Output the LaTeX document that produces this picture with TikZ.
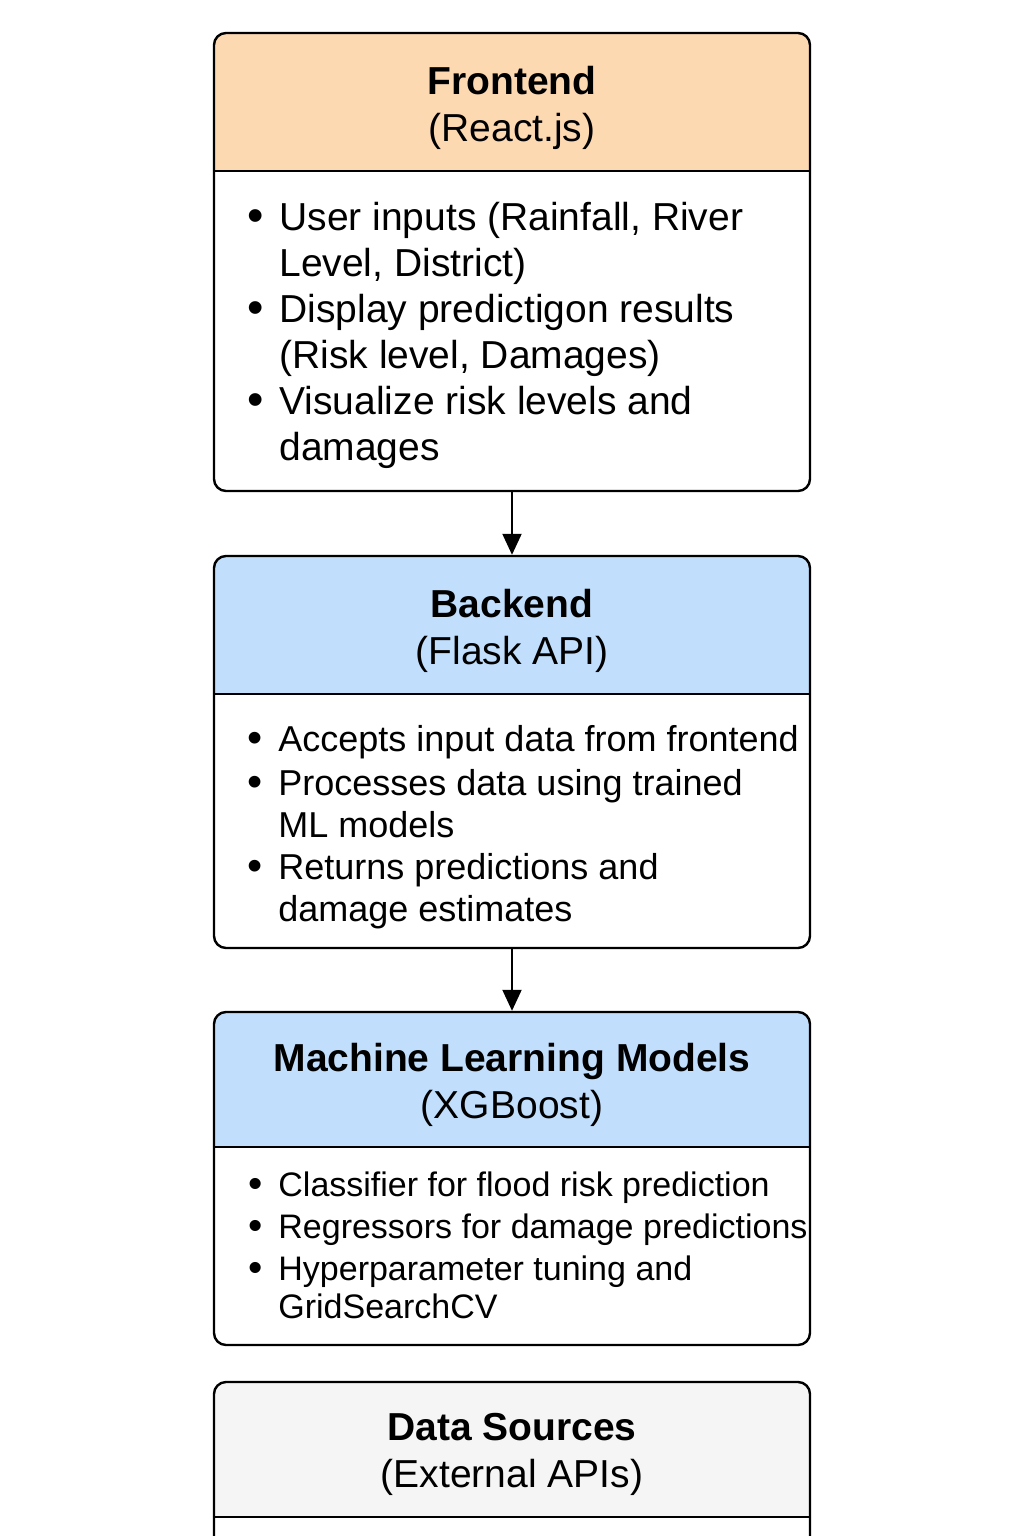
\documentclass[tikz,border=0pt]{standalone}
\usepackage{fontspec}
\usepackage{graphicx}
\setmainfont{Liberation Sans}
\usetikzlibrary{arrows.meta}
\definecolor{hdorange}{RGB}{253,217,178}
\definecolor{hdblue}{RGB}{193,223,252}
\definecolor{hdgray}{RGB}{245,245,245}
\newcommand{\bul}{\makebox[0pt][r]{\raisebox{-0.05em}{\scalebox{1.2}{\textbullet}}\hspace{8pt}}}
\begin{document}
\begin{tikzpicture}[x=0.5pt,y=-0.5pt,
  boxshape/.style={draw=black, line width=1.2pt, rounded corners=6pt, minimum width=298pt, inner sep=0},
  divline/.style={line width=1.1pt},
  ttl/.style={anchor=base, align=center, inner sep=0, font=\fontsize{19.5}{23.5}\selectfont},
  itmA/.style={anchor=base west, align=left, inner sep=0, font=\fontsize{19.5}{23}\selectfont},
  itmB/.style={anchor=base west, align=left, inner sep=0, font=\fontsize{18}{21}\selectfont},
  itmC/.style={anchor=base west, align=left, inner sep=0, font=\fontsize{17}{19}\selectfont},
  arr/.style={-{Triangle[length=10.5pt,width=9.5pt]}, line width=1pt}]
\useasboundingbox (0,0) rectangle (1024,1536);
\clip (0,0) rectangle (1024,1536);
% header fills
\begin{scope}
\clip[rounded corners=6pt] (214,33) rectangle (810,491);
\fill[hdorange] (214,33) rectangle (810,171);
\end{scope}
\begin{scope}
\clip[rounded corners=6pt] (214,556) rectangle (810,948);
\fill[hdblue] (214,556) rectangle (810,694);
\end{scope}
\begin{scope}
\clip[rounded corners=6pt] (214,1012) rectangle (810,1345);
\fill[hdblue] (214,1012) rectangle (810,1147);
\end{scope}
\begin{scope}
\clip[rounded corners=6pt] (214,1382) rectangle (810,1700);
\fill[hdgray] (214,1382) rectangle (810,1517);
\end{scope}
% boxes
\node[boxshape, minimum height=229pt] (fe) at (512,262) {};
\node[boxshape, minimum height=196pt] (be) at (512,752) {};
\node[boxshape, minimum height=166.5pt] (ml) at (512,1178.5) {};
\node[boxshape, minimum height=159pt] (ds) at (512,1541) {};
% dividers
\draw[divline] (fe.west |- 0,171) -- (fe.east |- 0,171);
\draw[divline] (be.west |- 0,694) -- (be.east |- 0,694);
\draw[divline] (ml.west |- 0,1147) -- (ml.east |- 0,1147);
\draw[divline] (ds.west |- 0,1517) -- (ds.east |- 0,1517);
% titles (anchor = baseline of last line)
\node[ttl] (feT) at (512,141) {\textbf{Frontend}\\(React.js)};
\node[ttl] (beT) at (512,664) {\textbf{Backend}\\(Flask API)};
\node[ttl] (mlT) at (512,1118) {\textbf{Machine Learning Models}\\(XGBoost)};
\node[ttl] (dsT) at (512,1487) {\textbf{Data Sources}\\(External APIs)};
% items (anchor = baseline of last line)
\node[itmA] (f1) at (279,276) {\bul User inputs (Rainfall, River\\Level, District)};
\node[itmA] (f2) at (279,368) {\bul Display predictigon results\\(Risk level, Damages)};
\node[itmA] (f3) at (279,460) {\bul Visualize risk levels and\\damages};
\node[itmB] (b1) at (278,751) {\bul Accepts input data from frontend};
\node[itmB] (b2) at (278,837) {\bul Processes data using trained\\ML models};
\node[itmB] (b3) at (278,921) {\bul Returns predictions and\\damage estimates};
\node[itmC] (m1) at (278,1196) {\bul Classifier for flood risk prediction};
\node[itmC] (m2) at (278,1238) {\bul Regressors for damage predictions};
\node[itmC] (m3) at (278,1318) {\bul Hyperparameter tuning and\\GridSearchCV};
% arrows
\draw[arr] (fe.south) -- (be.north);
\draw[arr] (be.south) -- (ml.north);
\end{tikzpicture}
\end{document}
